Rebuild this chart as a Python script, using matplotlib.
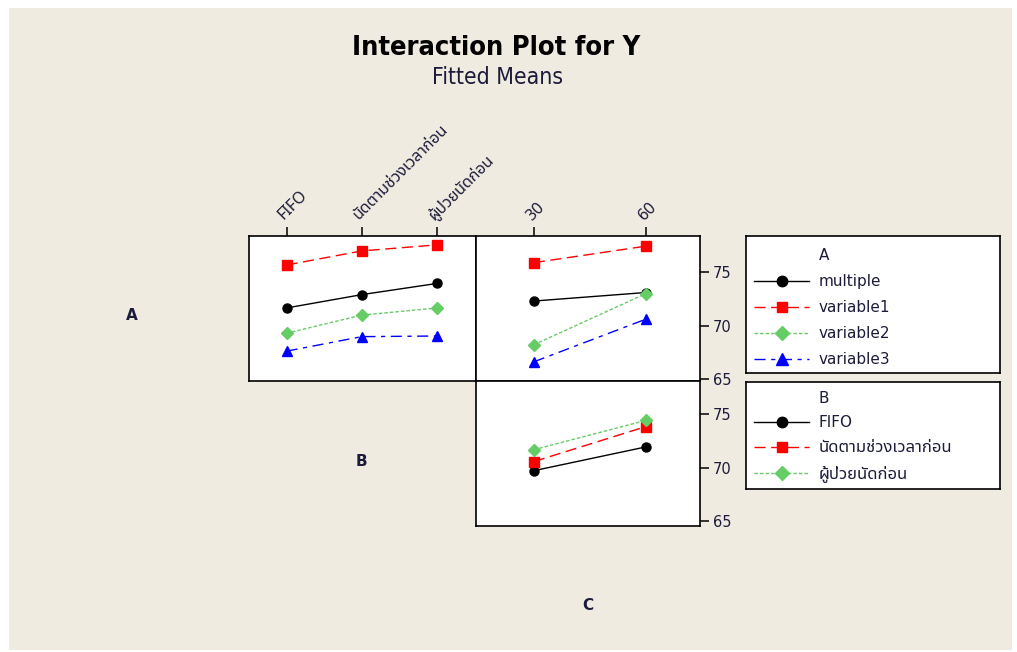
import matplotlib
matplotlib.use("Agg")
import matplotlib.pyplot as plt
from matplotlib import font_manager
from matplotlib.lines import Line2D
from matplotlib.patches import Rectangle

# ---------------- data ----------------
A_levels = ["multiple", "variable1", "variable2", "variable3"]
B_levels = ["FIFO", "นัดตามช่วงเวลาก่อน", "ผู้ป่วยนัดก่อน"]
C_levels = [30, 60]

# fitted means, A x B
AB_multiple = [71.65, 72.9, 73.95]
AB_variable1 = [75.68, 77.0, 77.57]
AB_variable2 = [69.28, 70.98, 71.65]
AB_variable3 = [67.6, 68.96, 69.02]

# fitted means, A x C
AC_multiple = [72.3, 73.1]
AC_variable1 = [75.9, 77.45]
AC_variable2 = [68.2, 73.0]
AC_variable3 = [66.6, 70.6]

# fitted means, B x C
BC_fifo = [69.72, 71.94]
BC_timeslot = [70.57, 73.84]
BC_patient = [71.68, 74.42]

y_ticks = [65, 70, 75]

# ---------------- styles ----------------
W, H = 1017, 652
names = {f.name for f in font_manager.fontManager.ttflist}
thai = next((n for n in ["Tahoma", "Noto Sans Thai", "Noto Sans Thai UI", "Sarabun",
                         "Loma", "Garuda", "Bai Jamjuree", "Kanit", "Prompt"] if n in names),
            "DejaVu Sans")
FAM = ["DejaVu Sans", thai]
TFAM = [thai, "DejaVu Sans"]
TXT = "#1c1c3a"

styles = [
    dict(color="black", marker="o", ms=6.5, ls="-"),
    dict(color="#FF0000", marker="s", ms=6.5, ls=(0, (8, 4))),
    dict(color="#66CC66", marker="D", ms=6, ls=(0, (2.5, 1.5))),
    dict(color="#0000FF", marker="^", ms=7.5, ls=(0, (8, 4, 3, 4))),
]


def px(x0, y0, x1, y1):
    return [x0 / W, 1 - y1 / H, (x1 - x0) / W, (y1 - y0) / H]


fig = plt.figure(figsize=(W / 100, H / 100), dpi=100, facecolor="white")
fig.patches.append(Rectangle((9 / W, 1 - 650 / H), 1003 / W, 642 / H,
                             transform=fig.transFigure, facecolor="#EFEBE1",
                             edgecolor="none", zorder=-10))


def style_axes(ax):
    ax.set_facecolor("white")
    for s in ax.spines.values():
        s.set_linewidth(1.2)
        s.set_color("black")
    ax.tick_params(length=6.5, width=1.1, color="black", pad=3, labelsize=10.5,
                   labelcolor=TXT)


# ---- A x B ----
axAB = fig.add_axes(px(249, 236, 476, 381))
style_axes(axAB)
xb = list(range(len(B_levels)))
for vals, st in zip([AB_multiple, AB_variable1, AB_variable2, AB_variable3], styles):
    axAB.plot(xb, vals, color=st["color"], marker=st["marker"], ms=st["ms"],
              linestyle=st["ls"], lw=1)
axAB.set_xlim(-0.5, 2.52)
axAB.set_ylim(64.8, 78.4)
axAB.set_yticks([])
axAB.xaxis.tick_top()
axAB.set_xticks(xb)
axAB.set_xticklabels(B_levels, rotation=45, ha="left", va="bottom",
                     rotation_mode="anchor", fontfamily=TFAM, fontsize=11.5)

# ---- A x C ----
axAC = fig.add_axes(px(476, 236, 700, 381))
style_axes(axAC)
for vals, st in zip([AC_multiple, AC_variable1, AC_variable2, AC_variable3], styles):
    axAC.plot(C_levels, vals, color=st["color"], marker=st["marker"], ms=st["ms"],
              linestyle=st["ls"], lw=1)
axAC.set_xlim(14.5, 74.5)
axAC.set_ylim(64.8, 78.4)
axAC.xaxis.tick_top()
axAC.set_xticks(C_levels)
axAC.set_xticklabels([str(c) for c in C_levels], rotation=45, ha="left", va="bottom",
                     rotation_mode="anchor", fontfamily=FAM, fontsize=11)
axAC.yaxis.tick_right()
axAC.set_yticks(y_ticks)
axAC.set_yticklabels([str(t) for t in y_ticks], fontfamily=FAM)

# ---- B x C ----
axBC = fig.add_axes(px(476, 381, 700, 526))
style_axes(axBC)
for vals, st in zip([BC_fifo, BC_timeslot, BC_patient], styles[:3]):
    axBC.plot(C_levels, vals, color=st["color"], marker=st["marker"], ms=st["ms"],
              linestyle=st["ls"], lw=1)
axBC.set_xlim(14.5, 74.5)
axBC.set_ylim(64.55, 78.1)
axBC.set_xticks([])
axBC.yaxis.tick_right()
axBC.set_yticks(y_ticks)
axBC.set_yticklabels([str(t) for t in y_ticks], fontfamily=FAM)

# ---- legends ----
def legend_box(rect, title, labels, sts, top_px, spacing):
    lax = fig.add_axes(px(*rect))
    lax.set_facecolor("white")
    lax.set_xticks([])
    lax.set_yticks([])
    for s in lax.spines.values():
        s.set_linewidth(1.2)
    handles = [Line2D([], [], color="none")]
    for st in sts:
        handles.append(Line2D([], [], color=st["color"], marker=st["marker"],
                              ms=st["ms"] + 1, linestyle=st["ls"], lw=1))
    leg = lax.legend(handles, [title] + labels, loc="upper left",
                     bbox_to_anchor=(754 / W, 1 - top_px / H),
                     bbox_transform=fig.transFigure, frameon=False,
                     borderpad=0, borderaxespad=0, handlelength=3.6,
                     handletextpad=0.65, labelspacing=spacing, numpoints=1,
                     prop={"family": FAM, "size": 11})
    for t in leg.get_texts():
        t.set_color(TXT)
        if any("\u0e00" <= ch <= "\u0e7f" for ch in t.get_text()):
            t.set_fontfamily(TFAM)
            t.set_fontsize(12)


legend_box((746, 236, 1000, 373), "A", A_levels, styles, 248, 0.72)
legend_box((746, 382, 1000, 489), "B", B_levels, styles[:3], 391, 0.62)

# ---- factor labels ----
for s, x, y in [("A", 132, 316), ("B", 361, 461), ("C", 588, 605)]:
    fig.text(x / W, 1 - y / H, s, ha="center", va="center", fontsize=11,
             fontweight="bold", color=TXT, family=FAM)

fig.text(496 / W, 1 - 48 / H, "Interaction Plot for Y", ha="center", va="center",
         fontsize=19.5, fontweight="bold", fontstretch="condensed", color="black",
         family=FAM)
fig.text(498 / W, 1 - 78 / H, "Fitted Means", ha="center", va="center",
         fontsize=16.5, fontstretch="condensed", color=TXT, family=FAM)

fig.savefig("out.png", dpi=100, facecolor="white")
